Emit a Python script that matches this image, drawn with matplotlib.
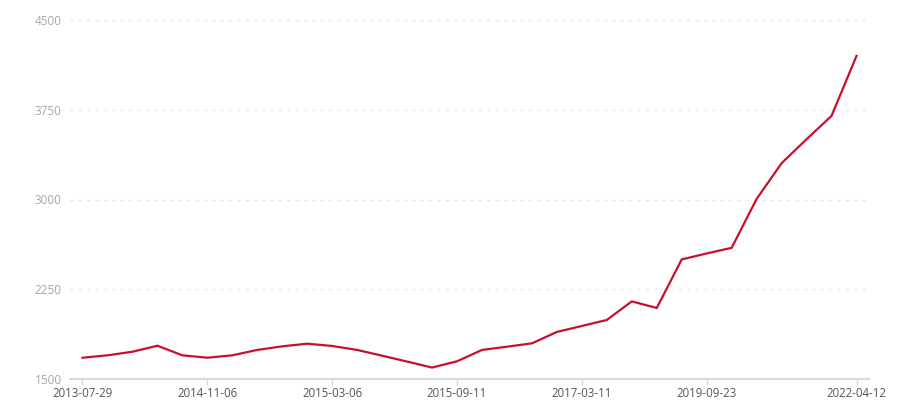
import numpy as np
import matplotlib.pyplot as plt

plt.rcParams['font.family'] = ['Open Sans', 'DejaVu Sans']

values = [1680, 1700, 1730, 1780, 1700, 1680, 1700, 1745, 1775, 1797,
          1778, 1745, 1697, 1648, 1598, 1650, 1745, 1772, 1800, 1895,
          1945, 1995, 2150, 2095, 2500, 2550, 2597, 3005, 3303, 3503,
          3698, 4198]
tick_idx = [0, 5, 10, 15, 20, 25, 31]
tick_labels = ['2013-07-29', '2014-11-06', '2015-03-06', '2015-09-11',
               '2017-03-11', '2019-09-23', '2022-04-12']
y_ticks = [1500, 2250, 3000, 3750, 4500]

fig = plt.figure(figsize=(9, 4), dpi=100)
ax = fig.add_axes([70/900, 1-379.3/400, 799/900, 359.6/400])

x = np.arange(len(values))
ax.plot(x, values, color='#c8102e', lw=1.6, solid_joinstyle='miter', zorder=3)

ax.set_xlim(-0.5, len(values) - 0.5)
ax.set_ylim(1500, 4500)
ax.set_yticks(y_ticks)
ax.set_xticks(tick_idx)
ax.set_xticklabels(tick_labels)

ax.grid(axis='y', color='#e8e8e8', lw=1, ls=(0, (2.5, 3.5)))
ax.set_axisbelow(True)

for s in ['top', 'right', 'left']:
    ax.spines[s].set_visible(False)
ax.spines['bottom'].set_color('#d9d9d9')
ax.spines['bottom'].set_linewidth(1.5)

ax.tick_params(axis='y', length=0, pad=6, labelsize=8.5, labelcolor='#a6a6a6')
ax.tick_params(axis='x', length=4, width=1, color='#d9d9d9', pad=1.5,
               labelsize=8.3, labelcolor='#555555')

plt.savefig('out.png', dpi=100)
